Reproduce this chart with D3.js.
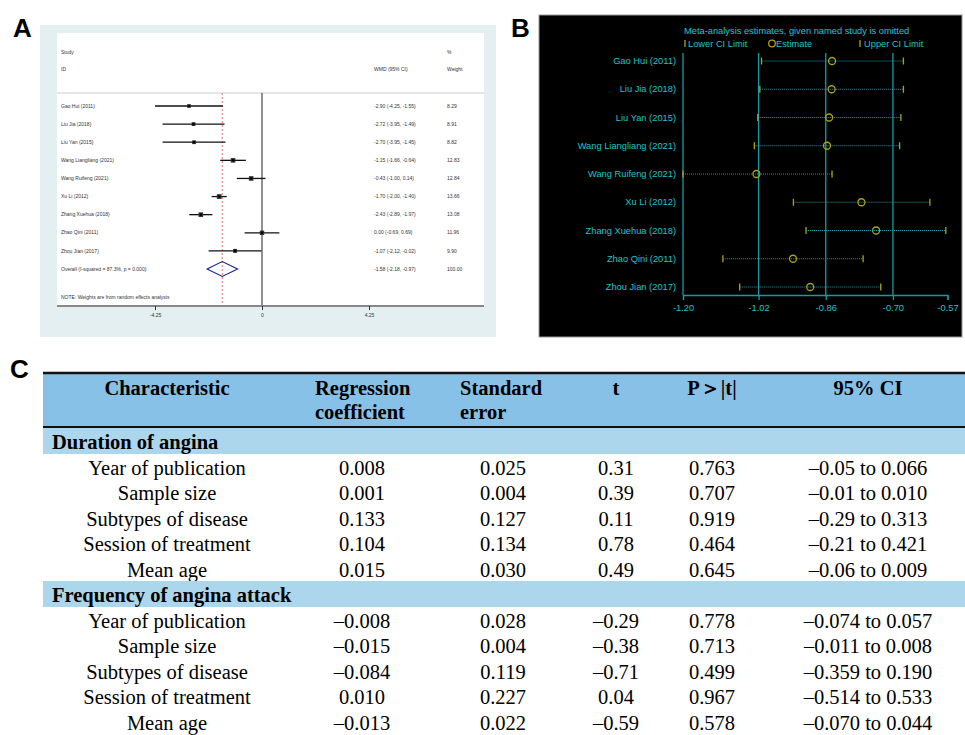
<!DOCTYPE html>
<html>
<head>
<meta charset="utf-8">
<script src="https://cdn.jsdelivr.net/npm/d3@7"></script>
<style>
  body { margin: 0; background: #fff; }
  svg { display: block; }
</style>
</head>
<body>
<div id="chart"></div>
<script>
// ---- panel A: forest plot ----
const studies = ["Gao Hui (2011)", "Liu Jia (2018)", "Liu Yan (2015)", "Wang Liangliang (2021)",
  "Wang Ruifeng (2021)", "Xu Li (2012)", "Zhang Xuehua (2018)", "Zhao Qini (2011)", "Zhou Jian (2017)"];
const wmd = [-2.90, -2.72, -2.70, -1.15, -0.43, -1.70, -2.43, 0.00, -1.07];
const wmdLow = [-4.25, -3.95, -3.95, -1.66, -1.00, -2.00, -2.89, -0.69, -2.12];
const wmdHigh = [-1.55, -1.49, -1.45, -0.64, 0.14, -1.40, -1.97, 0.69, -0.02];
const weights = [8.29, 8.91, 8.82, 12.83, 12.84, 13.66, 13.08, 11.96, 9.90];
const overall = { label: "Overall  (I-squared = 87.3%, p = 0.000)", est: -1.58, lo: -2.18, hi: -0.97, w: 100.00 };
const ticksA = [-4.25, 0, 4.25];

// ---- panel B: leave-one-out ----
const looNames = ["Gao Hui (2011)", "Liu Jia (2018)", "Liu Yan (2015)", "Wang Liangliang (2021)",
  "Wang Ruifeng (2021)", "Xu Li (2012)", "Zhang Xuehua (2018)", "Zhao Qini (2011)", "Zhou Jian (2017)"];
const looEst = [-0.845, -0.846, -0.852, -0.857, -1.025, -0.775, -0.740, -0.938, -0.897];
const looLow = [-1.013, -1.017, -1.022, -1.030, -1.200, -0.937, -0.907, -1.105, -1.065];
const looHigh = [-0.675, -0.675, -0.681, -0.684, -0.845, -0.612, -0.574, -0.771, -0.729];
const ticksB = [-1.20, -1.02, -0.86, -0.70, -0.57];

// ---- panel C: meta-regression table ----
const tableHeaders = ["Characteristic", "Regression\ncoefficient", "Standard\nerror", "t", "P\uFF1E|t|", "95% CI"];
const sections = ["Duration of angina", "Frequency of angina attack"];
const covariates = ["Year of publication", "Sample size", "Subtypes of disease", "Session of treatment", "Mean age"];
const durationRows = [
  ["0.008", "0.025", "0.31", "0.763", "\u20130.05 to 0.066"],
  ["0.001", "0.004", "0.39", "0.707", "\u20130.01 to 0.010"],
  ["0.133", "0.127", "0.11", "0.919", "\u20130.29 to 0.313"],
  ["0.104", "0.134", "0.78", "0.464", "\u20130.21 to 0.421"],
  ["0.015", "0.030", "0.49", "0.645", "\u20130.06 to 0.009"]
];
const frequencyRows = [
  ["\u20130.008", "0.028", "\u20130.29", "0.778", "\u20130.074 to 0.057"],
  ["\u20130.015", "0.004", "\u20130.38", "0.713", "\u20130.011 to 0.008"],
  ["\u20130.084", "0.119", "\u20130.71", "0.499", "\u20130.359 to 0.190"],
  ["0.010", "0.227", "0.04", "0.967", "\u20130.514 to 0.533"],
  ["\u20130.013", "0.022", "\u20130.59", "0.578", "\u20130.070 to 0.044"]
];

const svg = d3.select("#chart").append("svg")
  .attr("width", 965).attr("height", 735);

// panel letters
[["A", 13, 37], ["B", 511, 37], ["C", 10, 378]].forEach(([t, x, y]) => {
  svg.append("text").attr("x", x).attr("y", y)
    .attr("font-family", "Liberation Sans, Arial").attr("font-weight", "bold")
    .attr("font-size", 26).text(t);
});

// ===== Panel A =====
const gA = svg.append("g");
gA.append("rect").attr("x", 40).attr("y", 25).attr("width", 456).attr("height", 312).attr("fill", "#e3eff0");
gA.append("rect").attr("x", 57).attr("y", 33).attr("width", 427).attr("height", 273).attr("fill", "#fff");

const xA = d3.scaleLinear().domain([-4.25, 4.25]).range([155, 369]);
const yA = d3.scalePoint().domain(d3.range(10)).range([106, 269]);
const fA = { "font-family": "Liberation Sans, Arial", "font-size": 5, fill: "#333" };
function txtA(x, y, s) {
  const t = gA.append("text").attr("x", x).attr("y", y + 1.7).text(s);
  Object.entries(fA).forEach(([k, v]) => t.attr(k, v));
  return t;
}
txtA(61, 52, "Study");
txtA(61, 69, "ID");
txtA(447, 52, "%");
txtA(374, 69, "WMD (95% CI)");
txtA(447, 69, "Weight");
gA.append("line").attr("x1", 57).attr("x2", 484).attr("y1", 93).attr("y2", 93)
  .attr("stroke", "#ccc").attr("stroke-width", 1);

// zero line and overall dashed line
gA.append("line").attr("x1", xA(0)).attr("x2", xA(0)).attr("y1", 93).attr("y2", 306)
  .attr("stroke", "#222").attr("stroke-width", 1);
gA.append("line").attr("x1", xA(overall.est)).attr("x2", xA(overall.est)).attr("y1", 93).attr("y2", 306)
  .attr("stroke", "#e0707a").attr("stroke-width", 1).attr("stroke-dasharray", "2,2");

studies.forEach((s, i) => {
  const y = yA(i);
  txtA(61, y, s);
  txtA(374, y, `${wmd[i].toFixed(2)} (${wmdLow[i].toFixed(2)}, ${wmdHigh[i].toFixed(2)})`);
  txtA(447, y, weights[i].toFixed(2));
  gA.append("line").attr("x1", xA(wmdLow[i])).attr("x2", xA(wmdHigh[i]))
    .attr("y1", y).attr("y2", y).attr("stroke", "#111").attr("stroke-width", 1.3);
  const sz = 2 + weights[i] * 0.2;
  gA.append("rect").attr("x", xA(wmd[i]) - sz / 2).attr("y", y - sz / 2)
    .attr("width", sz).attr("height", sz).attr("fill", "#333");
  gA.append("circle").attr("cx", xA(wmd[i])).attr("cy", y).attr("r", 1.3).attr("fill", "#000");
});

// overall diamond
const yo = yA(9);
txtA(61, yo, overall.label);
txtA(374, yo, `${overall.est.toFixed(2)} (${overall.lo.toFixed(2)}, ${overall.hi.toFixed(2)})`);
txtA(447, yo, overall.w.toFixed(2));
gA.append("path")
  .attr("d", `M${xA(overall.lo)},${yo}L${xA(overall.est)},${yo - 7.5}L${xA(overall.hi)},${yo}L${xA(overall.est)},${yo + 7.5}Z`)
  .attr("fill", "none").attr("stroke", "#1c1c8c").attr("stroke-width", 1.1);
txtA(61, 297, "NOTE: Weights are from random effects analysis");

// axis
gA.append("line").attr("x1", 57).attr("x2", 484).attr("y1", 306).attr("y2", 306)
  .attr("stroke", "#888").attr("stroke-width", 1.8);
const axA = gA.append("g").attr("transform", "translate(0,306)")
  .call(d3.axisBottom(xA).tickValues(ticksA).tickSize(4).tickFormat(d => d === 0 ? "0" : d.toFixed(2)));
axA.select(".domain").remove();
axA.selectAll("line").attr("stroke", "#333");
axA.selectAll("text").attr("font-size", 5).attr("fill", "#333").attr("font-family", "Liberation Sans, Arial");

// ===== Panel B =====
const gB = svg.append("g");
const teal = "#1a9a9e", cyan = "#1fc4c8", olive = "#a8a418";
gB.append("rect").attr("x", 539).attr("y", 15).attr("width", 423).attr("height", 322)
  .attr("fill", "#000").attr("stroke", "#999").attr("stroke-width", 1);

const xB = d3.scaleLinear().domain([-1.20, -0.57]).range([683, 947.5]);
const yB = d3.scalePoint().domain(looNames).range([61, 287]);
const fB = (t, size) => t.attr("font-family", "Liberation Sans, Arial").attr("font-size", size || 9.3).attr("fill", cyan);

fB(gB.append("text").attr("x", 684).attr("y", 34).text("Meta-analysis estimates, given named study is omitted"));
// legend
gB.append("line").attr("x1", 685).attr("x2", 685).attr("y1", 40).attr("y2", 47).attr("stroke", olive).attr("stroke-width", 1.3);
fB(gB.append("text").attr("x", 688).attr("y", 47).text("Lower CI Limit"));
gB.append("circle").attr("cx", 772).attr("cy", 43.5).attr("r", 3.3).attr("fill", "none").attr("stroke", olive).attr("stroke-width", 1.3);
fB(gB.append("text").attr("x", 776).attr("y", 47).text("Estimate"));
gB.append("line").attr("x1", 860).attr("x2", 860).attr("y1", 40).attr("y2", 47).attr("stroke", olive).attr("stroke-width", 1.3);
fB(gB.append("text").attr("x", 864).attr("y", 47).text("Upper CI Limit"));

// reference lines
ticksB.slice(0, 4).forEach(v => {
  gB.append("line").attr("x1", xB(v)).attr("x2", xB(v)).attr("y1", 53).attr("y2", 295)
    .attr("stroke", teal).attr("stroke-width", 1.3);
});
const axB = gB.append("g").attr("transform", "translate(0,295)")
  .call(d3.axisBottom(xB).tickValues(ticksB).tickSize(5).tickFormat(d => d.toFixed(2)));
axB.select(".domain").attr("stroke", teal).attr("stroke-width", 1.3);
axB.selectAll("line").attr("stroke", teal).attr("stroke-width", 1.3);
axB.selectAll("text").attr("font-size", 9.3).attr("fill", cyan).attr("font-family", "Liberation Sans, Arial").attr("dy", "0.9em");

looNames.forEach((s, i) => {
  const y = yB(s);
  fB(gB.append("text").attr("x", 676).attr("y", y + 3.2).attr("text-anchor", "end").text(s));
  gB.append("line").attr("x1", xB(looLow[i])).attr("x2", xB(looHigh[i])).attr("y1", y).attr("y2", y)
    .attr("stroke", teal).attr("stroke-width", 1).attr("stroke-dasharray", "1,1");
  [looLow[i], looHigh[i]].forEach(v => {
    gB.append("line").attr("x1", xB(v)).attr("x2", xB(v)).attr("y1", y - 3.5).attr("y2", y + 3.5)
      .attr("stroke", olive).attr("stroke-width", 1.3);
  });
  gB.append("circle").attr("cx", xB(looEst[i])).attr("cy", y).attr("r", 3.5)
    .attr("fill", "none").attr("stroke", olive).attr("stroke-width", 1.3);
});

// ===== Panel C =====
const gC = svg.append("g");
const colX = [167, 362, 503, 616, 712, 868];
const serif = "Liberation Serif, Times New Roman, serif";
const fs = 20.5;

gC.append("rect").attr("x", 43).attr("y", 373).attr("width", 922).attr("height", 54).attr("fill", "#88c1e7");
gC.append("line").attr("x1", 43).attr("x2", 965).attr("y1", 373).attr("y2", 373).attr("stroke", "#111").attr("stroke-width", 2.5);
gC.append("line").attr("x1", 43).attr("x2", 965).attr("y1", 427).attr("y2", 427).attr("stroke", "#111").attr("stroke-width", 2);

tableHeaders.forEach((h, j) => {
  const lines = h.split("\n");
  const multi = lines.length > 1;
  lines.forEach((ln, k) => {
    gC.append("text")
      .attr("x", multi ? colX[j] - (j === 1 ? 47 : 43) : colX[j])
      .attr("y", 395 + k * 24)
      .attr("text-anchor", multi ? "start" : "middle")
      .attr("font-family", serif).attr("font-weight", "bold").attr("font-size", fs)
      .text(ln);
  });
});

const rowH = 25.4;
let rowTop = 428;
[durationRows, frequencyRows].forEach((rows, si) => {
  gC.append("rect").attr("x", 43).attr("y", rowTop).attr("width", 922).attr("height", 26).attr("fill", "#acd6ec");
  gC.append("text").attr("x", 52).attr("y", rowTop + 20.5)
    .attr("font-family", serif).attr("font-weight", "bold").attr("font-size", fs).text(sections[si]);
  rowTop += 26;
  rows.forEach((r, i) => {
    const y = rowTop + 21 + i * rowH;
    [covariates[i]].concat(r).forEach((v, j) => {
      gC.append("text").attr("x", colX[j]).attr("y", y).attr("text-anchor", "middle")
        .attr("font-family", serif).attr("font-size", fs).text(v);
    });
  });
  rowTop += rows.length * rowH;
});
</script>
</body>
</html>
